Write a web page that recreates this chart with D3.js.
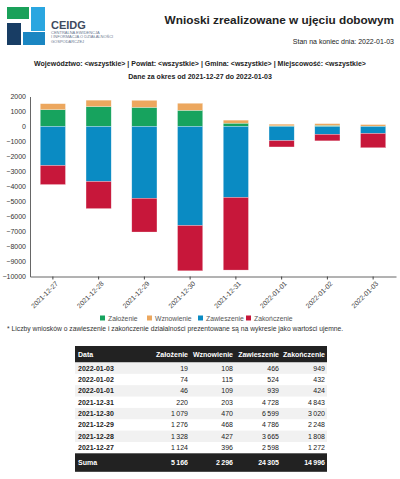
<!DOCTYPE html>
<html><head><meta charset="utf-8">
<script src="https://cdn.jsdelivr.net/npm/d3@7"></script>
<style>
body{margin:0;background:#fff;font-family:"Liberation Sans",Arial,sans-serif;}
svg{display:block;}
</style></head>
<body>
<svg id="c" width="400" height="479"></svg>
<script>
const dates = ["2021-12-27","2021-12-28","2021-12-29","2021-12-30","2021-12-31","2022-01-01","2022-01-02","2022-01-03"];
const zalozenie   = [1124, 1328, 1276, 1079, 220, 46, 74, 19];
const wznowienie  = [396, 427, 468, 470, 203, 109, 115, 108];
const zawieszenie = [2598, 3665, 4786, 6599, 4728, 939, 524, 466];
const zakonczenie = [1272, 1808, 2248, 3020, 4843, 424, 432, 949];
const seriesNames = ["Założenie","Wznowienie","Zawieszenie","Zakończenie"];
const seriesColors = ["#17a35e","#eca75e","#0a8bc3","#c7173a"];
const yTicks = [2000,1000,0,-1000,-2000,-3000,-4000,-5000,-6000,-7000,-8000,-9000,-10000];

const svg = d3.select("#c");
const font = "'Liberation Sans', Arial, sans-serif";

// Logo
const logo = svg.append("g");
logo.append("rect").attr("x",7).attr("y",7).attr("width",22).attr("height",12).attr("fill","#1aa15a");
logo.append("rect").attr("x",31).attr("y",7).attr("width",14).attr("height",24).attr("fill","#2aa6e0");
logo.append("rect").attr("x",7).attr("y",23).attr("width",14).attr("height",22).attr("fill","#183d64");
logo.append("rect").attr("x",23).attr("y",32).attr("width",22).attr("height",13).attr("fill","#1a86c2");
logo.append("text").attr("x",51).attr("y",29).text("CEIDG").attr("font-size",11).attr("font-weight","bold").attr("fill","#3e4b5f").attr("font-family",font);
["CENTRALNA EWIDENCJA","I INFORMACJA O DZIAŁALNOŚCI","GOSPODARCZEJ"].forEach((t,i)=>{
  logo.append("text").attr("x",51).attr("y",34+i*4.3).text(t).attr("font-size",4).attr("fill","#6a7890").attr("font-family",font);
});

// Titles
svg.append("text").attr("x",394).attr("y",24).attr("text-anchor","end").text("Wnioski zrealizowane w ujęciu dobowym")
  .attr("font-size",11.8).attr("font-weight","bold").attr("fill","#222").attr("font-family",font);
svg.append("text").attr("x",394).attr("y",44).attr("text-anchor","end").text("Stan na koniec dnia: 2022-01-03")
  .attr("font-size",7).attr("fill","#222").attr("font-family",font);
svg.append("text").attr("x",200).attr("y",66).attr("text-anchor","middle").text("Województwo: <wszystkie> | Powiat: <wszystkie> | Gmina: <wszystkie> | Miejscowość: <wszystkie>")
  .attr("font-size",7).attr("font-weight","bold").attr("fill","#222").attr("font-family",font);
svg.append("text").attr("x",200).attr("y",79).attr("text-anchor","middle").text("Dane za okres od 2021-12-27 do 2022-01-03")
  .attr("font-size",7).attr("font-weight","bold").attr("fill","#222").attr("font-family",font);

// Chart
const x = d3.scaleBand().domain(dates).range([30,396]).paddingInner(0.45).paddingOuter(0.225);
const y = d3.scaleLinear().domain([-10000,2000]).range([276.5,96.5]);

const g = svg.append("g");
dates.forEach((d,i)=>{
  const segs = [
    {y0:0, y1:zalozenie[i], c:seriesColors[0]},
    {y0:zalozenie[i], y1:zalozenie[i]+wznowienie[i], c:seriesColors[1]},
    {y0:0, y1:-zawieszenie[i], c:seriesColors[2]},
    {y0:-zawieszenie[i], y1:-zawieszenie[i]-zakonczenie[i], c:seriesColors[3]}
  ];
  segs.forEach(s=>{
    g.append("rect").attr("x",x(d)).attr("width",x.bandwidth())
      .attr("y",y(Math.max(s.y0,s.y1))).attr("height",Math.abs(y(s.y0)-y(s.y1)))
      .attr("fill",s.c).attr("stroke","#fff").attr("stroke-opacity",0.5).attr("stroke-width",0.5);
  });
});

const ya = svg.append("g").attr("transform","translate(30,0)")
  .call(d3.axisLeft(y).tickValues(yTicks).tickSize(0).tickPadding(4).tickFormat(d3.format("d")));
ya.select(".domain").attr("stroke","#666");
ya.selectAll("text").attr("font-size",7).attr("fill","#333").attr("font-family",font);

const xa = svg.append("g").attr("transform","translate(0,276.5)")
  .call(d3.axisBottom(x).tickSize(3).tickSizeOuter(0));
xa.select(".domain").attr("stroke","#666");
xa.selectAll("line").attr("stroke","#444");
xa.selectAll("text").attr("font-size",6.8).attr("fill","#444").attr("font-family",font)
  .attr("text-anchor","end").attr("dx","-0.2em").attr("dy","0.5em").attr("transform","rotate(-45)");

// Legend
const legX = [100,147,198,246];
seriesNames.forEach((n,i)=>{
  svg.append("rect").attr("x",legX[i]).attr("y",315.5).attr("width",5).attr("height",5).attr("fill",seriesColors[i]);
  svg.append("text").attr("x",legX[i]+8).attr("y",320.5).text(n).attr("font-size",6.8).attr("fill","#555").attr("font-family",font);
});
svg.append("text").attr("x",7).attr("y",331).text("* Liczby wniosków o zawieszenie i zakończenie działalności prezentowane są na wykresie jako wartości ujemne.")
  .attr("font-size",6.75).attr("fill","#333").attr("font-family",font);

// Table
const fmt = v => d3.format(",")(v).replace(/,/g,"\u2009");
const tx0 = 75, tx1 = 327;
const colRight = [188, 233, 279, 325];
const headerY = 346, headerH = 16.5, rowH = 11.35;
svg.append("rect").attr("x",tx0).attr("y",headerY).attr("width",tx1-tx0).attr("height",headerH).attr("fill","#222");
svg.append("text").attr("x",78).attr("y",headerY+11).text("Data").attr("font-size",7).attr("font-weight","bold").attr("fill","#fff").attr("font-family",font);
seriesNames.forEach((n,i)=>{
  svg.append("text").attr("x",colRight[i]).attr("y",headerY+11).attr("text-anchor","end").text(n)
    .attr("font-size",7).attr("font-weight","bold").attr("fill","#fff").attr("font-family",font);
});
const order = d3.range(dates.length).reverse();
const series = [zalozenie, wznowienie, zawieszenie, zakonczenie];
order.forEach((di,r)=>{
  const ry = headerY+headerH + r*rowH;
  if (r%2===0) svg.append("rect").attr("x",tx0).attr("y",ry).attr("width",tx1-tx0).attr("height",rowH).attr("fill","#f1f1f1");
  svg.append("text").attr("x",78).attr("y",ry+8).text(dates[di]).attr("font-size",7).attr("font-weight","bold").attr("fill","#222").attr("font-family",font);
  series.forEach((s,j)=>{
    svg.append("text").attr("x",colRight[j]).attr("y",ry+8).attr("text-anchor","end").text(fmt(s[di]))
      .attr("font-size",7).attr("fill","#222").attr("font-family",font);
  });
});
const sy = headerY+headerH + dates.length*rowH;
svg.append("rect").attr("x",tx0).attr("y",sy).attr("width",tx1-tx0).attr("height",18.5).attr("fill","#222");
svg.append("text").attr("x",78).attr("y",sy+12).text("Suma").attr("font-size",7).attr("font-weight","bold").attr("fill","#fff").attr("font-family",font);
series.forEach((s,j)=>{
  svg.append("text").attr("x",colRight[j]).attr("y",sy+12).attr("text-anchor","end").text(fmt(d3.sum(s)))
    .attr("font-size",7).attr("font-weight","bold").attr("fill","#fff").attr("font-family",font);
});
</script>
</body></html>
